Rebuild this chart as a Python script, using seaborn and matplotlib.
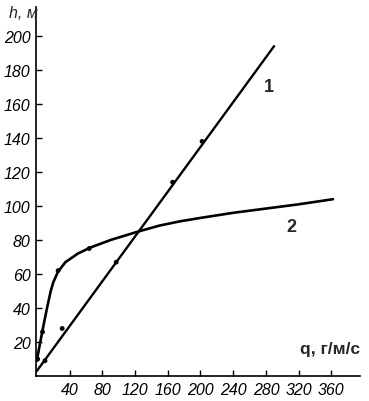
import matplotlib
matplotlib.use("Agg")
import matplotlib.pyplot as plt
import seaborn as sns
import pandas as pd

# Line 1 (straight fit) and its measured points
line1_q = [0, 290]
line1_h = [3, 194]
pts1_q = [10, 31, 97, 166, 202]
pts1_h = [9, 28, 67, 114, 138]

# Curve 2 and its measured points
curve2_q = [0, 3, 7, 12, 17, 20, 26, 35, 50, 65, 90, 124, 150, 175, 200, 240, 280, 320, 362]
curve2_h = [9, 17, 27, 39, 50, 55, 61.5, 67, 72, 75.5, 80, 85, 88.5, 91, 93, 96, 98.5, 101, 104]
pts2_q = [1, 7, 26, 64]
pts2_h = [10, 26, 62, 75]

x_ticks = [40, 80, 120, 160, 200, 240, 280, 320, 360]
y_ticks = [20, 40, 60, 80, 100, 120, 140, 160, 180, 200]

sns.set_style("ticks")
plt.rcParams['font.family'] = ['Liberation Sans', 'DejaVu Sans']

fig = plt.figure(figsize=(3.69, 4.02), dpi=100)
ax = fig.add_axes([0.0976, 0.062, 0.878, 0.918])

df1 = pd.DataFrame({"q": line1_q, "h": line1_h})
df2 = pd.DataFrame({"q": curve2_q, "h": curve2_h})
sns.lineplot(data=df1, x="q", y="h", ax=ax, color="black", lw=1.7, sort=False, estimator=None)
sns.lineplot(data=df2, x="q", y="h", ax=ax, color="black", lw=1.9, sort=False, estimator=None)
sns.scatterplot(x=pts1_q, y=pts1_h, ax=ax, color="black", s=12, edgecolor="none", zorder=5)
sns.scatterplot(x=pts2_q, y=pts2_h, ax=ax, color="black", s=12, edgecolor="none", zorder=5)

ax.set_xlim(-1, 395)
ax.set_ylim(0, 217)
ax.set_xticks(x_ticks)
ax.set_yticks(y_ticks)
ax.set_xticklabels([str(v) for v in x_ticks], fontstyle="italic", fontsize=11.5)
ax.set_yticklabels([str(v) for v in y_ticks], fontstyle="italic", fontsize=11.5)
ax.tick_params(direction="in", length=4, width=1, colors="black", pad=4)
for s in ["top", "right"]:
    ax.spines[s].set_visible(False)
for s in ["left", "bottom"]:
    ax.spines[s].set_linewidth(1.2)
    ax.spines[s].set_color("black")
ax.set_xlabel("")
ax.set_ylabel("")

fig.text(0.025, 0.985, "h, м", fontstyle="italic", fontsize=11.5, ha="left", va="top")
ax.text(395, 12, "q, г/м/с", fontweight="bold", fontsize=12.5, ha="right", va="bottom")
ax.text(284, 170, "1", fontweight="bold", fontsize=13, ha="center", va="center")
ax.text(311, 88, "2", fontweight="bold", fontsize=13, ha="center", va="center")

fig.savefig("out.png", dpi=100, facecolor="white")
